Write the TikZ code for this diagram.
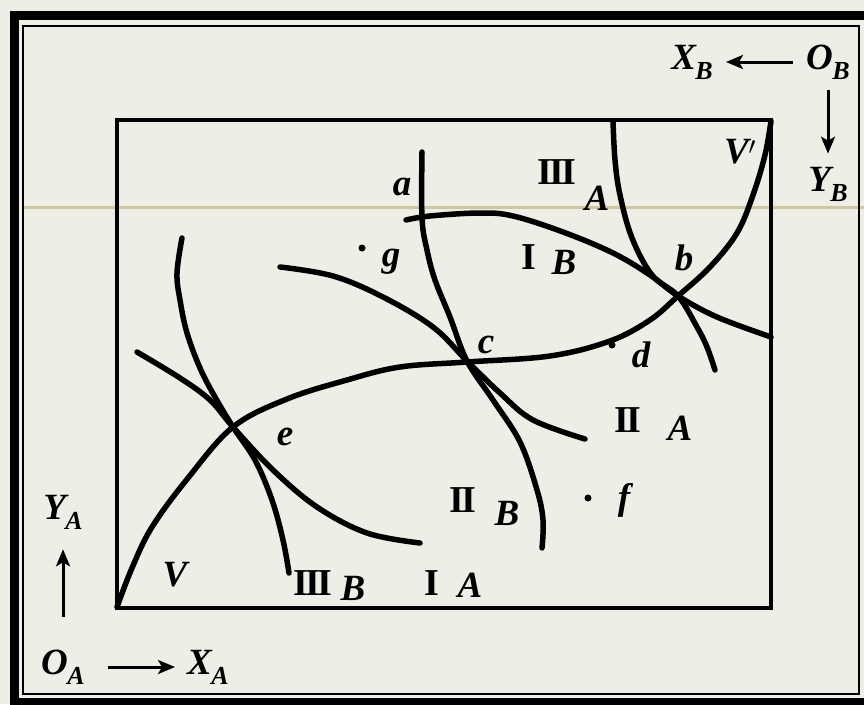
\documentclass[tikz,border=0pt]{standalone}
\usepackage{fontspec}
\setmainfont{Liberation Serif}
\usepackage{tikz}
\usetikzlibrary{arrows.meta}

\definecolor{paper}{HTML}{EEEEE7}
\definecolor{slideline}{HTML}{CDC7A2}

%% subscript letter, set a little lower and smaller
\newcommand{\lsub}[2]{#1\kern-0.5pt\raisebox{-10pt}{\fontsize{26}{26}\selectfont #2}}

\tikzset{
  curve/.style={line width=5.5pt, line cap=round, line join=round},
  lbl/.style={font=\fontsize{37}{40}\selectfont\bfseries\itshape, inner sep=1pt},
  num/.style={font=\fontsize{38}{40}\selectfont\bfseries, inner sep=1pt},
  axarrow/.style={line width=3pt, -{Stealth[length=17pt, width=14pt, inset=4pt]}},
  spot/.style={circle, fill=black, inner sep=0pt, minimum size=7pt},
}

\begin{document}
\begin{tikzpicture}[x=1pt, y=-1pt]

  %% ── Page and frame ─────────────────────────────────────────
  \useasboundingbox (0,0) rectangle (864,704);
  \clip (0,0) rectangle (864,704);
  \fill[paper] (0,0) rectangle (864,704);
  \draw[slideline, line width=3pt] (24,207) -- (864,207);

  \draw[line width=9pt] (14,15) rectangle (875,702);
  \draw[line width=2pt] (23,26) rectangle (859,694);

  %% ── Box ────────────────────────────────────────────────────
  \draw[line width=4pt] (117,120) rectangle (771,608);

  %% ── Contract curve V -- V' ──────────────────────────────────
  \draw[curve] plot[smooth, tension=0.6] coordinates {
    (117,607) (132,568) (152,527) (188,478) (233,427) (287,399)
    (347,380) (400,367) (467,362) (550,356) (610,341) (650,320)
    (678,296) (710,267) (737,233) (753,195) (765,155) (771,121)};

  %% ── Indifference curves of A ──────────────────────────────
  % I_A
  \draw[curve] plot[smooth, tension=0.6] coordinates {
    (137,352) (180,378) (210,400) (233,427) (273,470) (317,507)
    (367,533) (420,543)};
  % II_A
  \draw[curve] plot[smooth, tension=0.6] coordinates {
    (280,267) (333,276) (383,297) (433,327) (467,361) (500,393)
    (533,420) (585,439)};
  % III_A
  \draw[curve] plot[smooth, tension=0.6] coordinates {
    (613,121) (615,160) (620,195) (632,238) (652,275) (678,296)
    (697,327) (707,347) (715,370)};

  %% ── Indifference curves of B ──────────────────────────────
  % I_B
  \draw[curve] plot[smooth, tension=0.6] coordinates {
    (406,220) (430,216) (480,213) (513,216) (563,232) (613,253)
    (650,275) (678,296) (717,317) (771,337)};
  % II_B
  \draw[curve] plot[smooth, tension=0.6] coordinates {
    (422,152) (422,218) (427,250) (435,280) (450,317) (467,361)
    (493,400) (520,442) (537,490) (543,520) (542,548)};
  % III_B
  \draw[curve] plot[smooth, tension=0.6] coordinates {
    (182,238) (177,273) (180,300) (187,333) (200,368) (215,397)
    (233,427) (255,460) (272,500) (283,540) (289,573)};

  %% ── Points ─────────────────────────────────────────────────
  \node[lbl] (pa) at (402,187) {a};
  \node[lbl] (pb) at (684,258) {b};
  \node[lbl] (pc) at (486,345) {c};
  \node[lbl] (pd) at (641,355) {d};
  \node[lbl] (pe) at (285,437) {e};
  \node[lbl] (pf) at (624,500) {f};
  \node[lbl] (pg) at (391,262) {g};
  \node[spot] (dotd) at (612,345) {};
  \node[spot] (dotf) at (588,498) {};
  \node[spot] (dotg) at (362,248) {};

  \node[lbl] (vlow) at (175,575) {V};
  \node[lbl] (vtop) at (740,152) {V$'$};

  %% ── Curve labels ───────────────────────────────────────────
  \node[num] (n3a) at (557,172) {I\kern-3pt I\kern-3pt I};
  \node[lbl] (l3a) at (597,198) {A};
  \node[num] (n1b) at (529,257) {I};
  \node[lbl] (l1b) at (564,262) {B};
  \node[num] (n2a) at (628,420) {I\kern-3pt I};
  \node[lbl] (l2a) at (680,428) {A};
  \node[num] (n2b) at (463,500) {I\kern-3pt I};
  \node[lbl] (l2b) at (507,513) {B};
  \node[num] (n3b) at (313,583) {I\kern-3pt I\kern-3pt I};
  \node[lbl] (l3b) at (353,588) {B};
  \node[num] (n1a) at (432,583) {I};
  \node[lbl] (l1a) at (470,585) {A};

  %% ── Origins and axes ───────────────────────────────────────
  \node[lbl] (OB) at (828,62) {\lsub{O}{B}};
  \node[lbl] (XB) at (692,62) {\lsub{X}{B}};
  \node[lbl] (YB) at (828,184) {\lsub{Y}{B}};
  \draw[axarrow, shorten <=12pt, shorten >=12pt] (OB.west) -- (XB.east);
  \draw[axarrow, shorten <=10pt, shorten >=12pt] (OB.south) -- (YB.north);

  \node[lbl] (OA) at (63,667) {\lsub{O}{A}};
  \node[lbl] (XA) at (208,667) {\lsub{X}{A}};
  \node[lbl] (YA) at (63,512) {\lsub{Y}{A}};
  \draw[axarrow, shorten <=22pt, shorten >=11pt] (OA.east) -- (XA.west);
  \draw[axarrow, shorten <=32pt, shorten >=19pt] (OA.north) -- (YA.south);

\end{tikzpicture}
\end{document}
